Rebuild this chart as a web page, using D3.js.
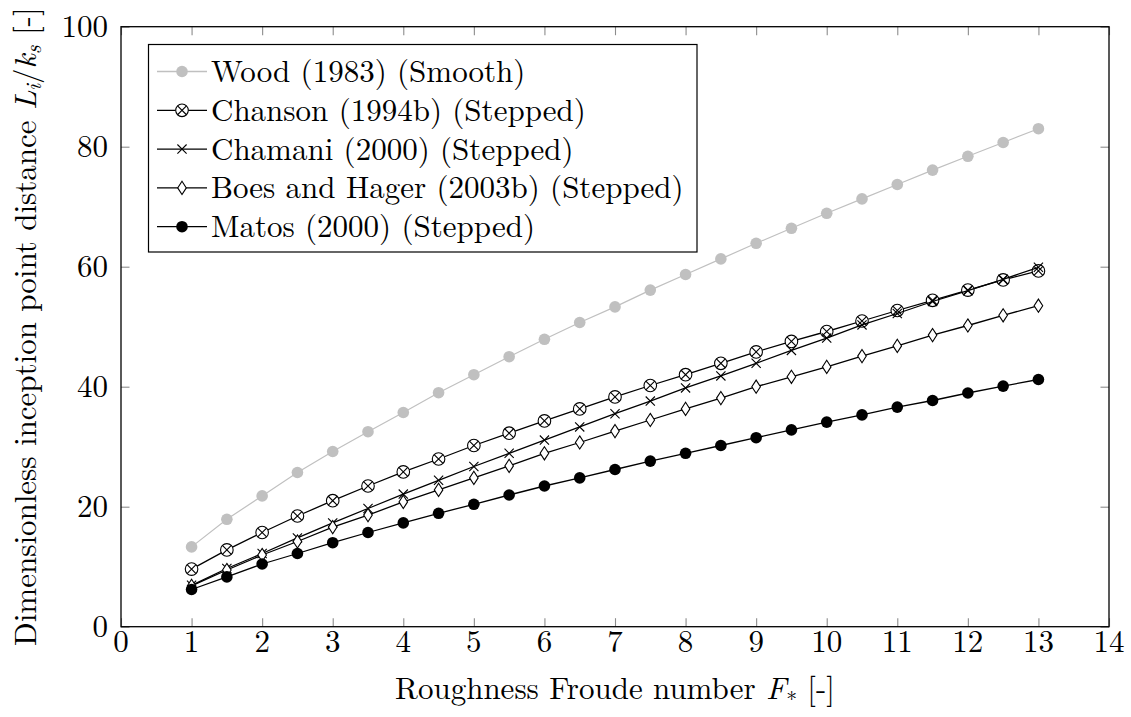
<!DOCTYPE html>
<html>
<head>
<meta charset="utf-8">
<script src="https://cdn.jsdelivr.net/npm/d3@7"></script>
<style>
  html, body { margin: 0; padding: 0; background: #fff; }
  svg { display: block; }
</style>
</head>
<body>
<svg id="chart" width="1131" height="717"></svg>
<script>
// Roughness Froude number values at which each relation is evaluated
const froude = [1, 1.5, 2, 2.5, 3, 3.5, 4, 4.5, 5, 5.5, 6, 6.5, 7, 7.5, 8, 8.5, 9, 9.5, 10, 10.5, 11, 11.5, 12, 12.5, 13];

// Dimensionless inception point distance Li/ks for each relation
const wood = [13.3, 17.9, 21.8, 25.7, 29.2, 32.5, 35.7, 39.0, 42.0, 45.0, 47.9, 50.7, 53.3, 56.1, 58.7, 61.3, 63.9, 66.4, 68.9, 71.3, 73.7, 76.1, 78.4, 80.7, 83.0];
const chanson = [9.6, 12.8, 15.7, 18.45, 21.0, 23.45, 25.8, 27.95, 30.2, 32.25, 34.3, 36.3, 38.3, 40.2, 42.0, 43.9, 45.8, 47.55, 49.2, 50.95, 52.7, 54.4, 56.1, 57.8, 59.3];
const chamani = [6.9, 9.7, 12.2, 14.8, 17.3, 19.7, 22.1, 24.4, 26.7, 28.9, 31.1, 33.3, 35.5, 37.6, 39.8, 41.8, 43.9, 46.05, 48.1, 50.3, 52.2, 54.2, 56.0, 57.9, 59.9];
const boes = [6.8, 9.45, 11.95, 14.2, 16.6, 18.6, 20.8, 22.8, 24.8, 26.8, 28.9, 30.7, 32.6, 34.45, 36.3, 38.1, 40.0, 41.65, 43.3, 45.1, 46.8, 48.6, 50.2, 51.9, 53.5];
const matos = [6.2, 8.3, 10.45, 12.2, 14.0, 15.7, 17.3, 18.9, 20.4, 21.95, 23.45, 24.8, 26.2, 27.6, 28.9, 30.2, 31.5, 32.8, 34.1, 35.3, 36.6, 37.7, 38.95, 40.1, 41.2];

// Legend labels and tick values
const seriesNames = ["Wood (1983) (Smooth)", "Chanson (1994b) (Stepped)", "Chamani (2000) (Stepped)", "Boes and Hager (2003b) (Stepped)", "Matos (2000) (Stepped)"];
const xTicks = [0, 1, 2, 3, 4, 5, 6, 7, 8, 9, 10, 11, 12, 13, 14];
const yTicks = [0, 20, 40, 60, 80, 100];

const seriesData = [wood, chanson, chamani, boes, matos];
const seriesStyle = [
  { stroke: "#c0c0c0", mark: "dot", fill: "#c0c0c0" },
  { stroke: "#000", mark: "otimes" },
  { stroke: "#000", mark: "cross" },
  { stroke: "#000", mark: "diamond" },
  { stroke: "#000", mark: "dot", fill: "#000" }
];

const SERIF = "Latin Modern Roman";
const svg = d3.select("#chart");
const plot = { left: 121, right: 1109, top: 26.7, bottom: 626.7 };

const x = d3.scaleLinear().domain([0, 14]).range([plot.left, plot.right]);
const y = d3.scaleLinear().domain([0, 100]).range([plot.bottom, plot.top]);

const FONT = 31;
const TICK = 8.5;
const tickColor = "#8c8c8c";

// Inward ticks on all four sides
const axes = svg.append("g");
axes.append("g").attr("transform", `translate(0,${plot.bottom})`)
  .call(d3.axisTop(x).tickValues(xTicks).tickSize(TICK).tickFormat(""))
  .call(g => g.select(".domain").remove());
axes.append("g").attr("transform", `translate(0,${plot.top})`)
  .call(d3.axisBottom(x).tickValues(xTicks).tickSize(TICK).tickFormat(""))
  .call(g => g.select(".domain").remove());
axes.append("g").attr("transform", `translate(${plot.left},0)`)
  .call(d3.axisRight(y).tickValues(yTicks).tickSize(TICK).tickFormat(""))
  .call(g => g.select(".domain").remove());
axes.append("g").attr("transform", `translate(${plot.right},0)`)
  .call(d3.axisLeft(y).tickValues(yTicks).tickSize(TICK).tickFormat(""))
  .call(g => g.select(".domain").remove());
axes.selectAll(".tick line").attr("stroke", tickColor).attr("stroke-width", 1.1);

// Tick labels
svg.append("g").selectAll("text").data(xTicks).join("text")
  .attr("font-family", SERIF)
  .attr("x", d => x(d)).attr("y", plot.bottom + 25)
  .attr("text-anchor", "middle")
  .attr("font-size", FONT)
  .text(d => d);
svg.append("g").selectAll("text").data(yTicks).join("text")
  .attr("font-family", SERIF)
  .attr("x", plot.left - 13).attr("y", d => y(d) + 10.5)
  .attr("text-anchor", "end")
  .attr("font-size", FONT)
  .text(d => d);

// Data lines and marks
const line = d3.line().x((d, i) => x(froude[i])).y(d => y(d));

function drawMark(g, type, cx, cy, style) {
  if (type === "dot") {
    g.append("circle").attr("cx", cx).attr("cy", cy).attr("r", 5.8)
      .attr("fill", style.fill).attr("stroke", "none");
  } else if (type === "otimes") {
    const r = 6.3, k = r * Math.SQRT1_2;
    g.append("circle").attr("cx", cx).attr("cy", cy).attr("r", r)
      .attr("fill", "#fff").attr("stroke", "#000").attr("stroke-width", 1.1);
    g.append("path")
      .attr("d", `M${cx - k},${cy - k}L${cx + k},${cy + k}M${cx - k},${cy + k}L${cx + k},${cy - k}`)
      .attr("stroke", "#000").attr("stroke-width", 1.1);
  } else if (type === "cross") {
    const k = 4.6;
    g.append("path")
      .attr("d", `M${cx - k},${cy - k}L${cx + k},${cy + k}M${cx - k},${cy + k}L${cx + k},${cy - k}`)
      .attr("stroke", "#000").attr("stroke-width", 1.1);
  } else if (type === "diamond") {
    const w = 4.3, h = 6.6;
    g.append("path")
      .attr("d", `M${cx},${cy - h}L${cx + w},${cy}L${cx},${cy + h}L${cx - w},${cy}Z`)
      .attr("fill", "#fff").attr("stroke", "#000").attr("stroke-width", 1.1);
  }
}

const dataG = svg.append("g");
seriesData.forEach((vals, s) => {
  const st = seriesStyle[s];
  const g = dataG.append("g");
  g.append("path").datum(vals)
    .attr("d", line)
    .attr("fill", "none")
    .attr("stroke", st.stroke)
    .attr("stroke-width", s === 0 ? 1.2 : 1.3);
  vals.forEach((v, i) => drawMark(g, st.mark, x(froude[i]), y(v), st));
});

// Plot frame
svg.append("rect")
  .attr("x", plot.left).attr("y", plot.top)
  .attr("width", plot.right - plot.left).attr("height", plot.bottom - plot.top)
  .attr("fill", "none").attr("stroke", "#000").attr("stroke-width", 1.3);

// Legend
const legend = { left: 148.5, top: 44.5, right: 697, bottom: 252 };
const lg = svg.append("g");
lg.append("rect")
  .attr("x", legend.left).attr("y", legend.top)
  .attr("width", legend.right - legend.left).attr("height", legend.bottom - legend.top)
  .attr("fill", "#fff").attr("stroke", "#000").attr("stroke-width", 1.2);
seriesNames.forEach((name, s) => {
  const cy = 71.5 + s * 38.8;
  const st = seriesStyle[s];
  lg.append("line").attr("x1", 157).attr("x2", 207).attr("y1", cy).attr("y2", cy)
    .attr("stroke", st.stroke).attr("stroke-width", 1.3);
  drawMark(lg, st.mark, 182, cy, st);
  lg.append("text").attr("x", 211).attr("y", cy + 10.5)
    .attr("font-family", SERIF)
    .attr("font-size", FONT)
    .text(name);
});

// Axis titles
const xt = svg.append("text")
  .attr("font-family", SERIF)
  .attr("x", x(7)).attr("y", 699)
  .attr("text-anchor", "middle")
  .attr("font-size", FONT);
xt.append("tspan").text("Roughness Froude number ");
xt.append("tspan").attr("font-style", "italic").text("F");
xt.append("tspan").attr("font-size", FONT * 0.7).attr("dy", 8).text("*");
xt.append("tspan").attr("dy", -8).text(" [-]");

const yt = svg.append("text")
  .attr("font-family", SERIF)
  .attr("transform", `translate(36,${(plot.top + plot.bottom) / 2}) rotate(-90)`)
  .attr("text-anchor", "middle")
  .attr("font-size", FONT);
yt.append("tspan").text("Dimensionless inception point distance ");
yt.append("tspan").attr("font-style", "italic").text("L");
yt.append("tspan").attr("font-style", "italic").attr("font-size", FONT * 0.7).attr("dy", 5).text("i");
yt.append("tspan").attr("dy", -5).text("/");
yt.append("tspan").attr("font-style", "italic").text("k");
yt.append("tspan").attr("font-style", "italic").attr("font-size", FONT * 0.7).attr("dy", 5).text("s");
yt.append("tspan").attr("dy", -5).text(" [-]");
</script>
</body>
</html>
